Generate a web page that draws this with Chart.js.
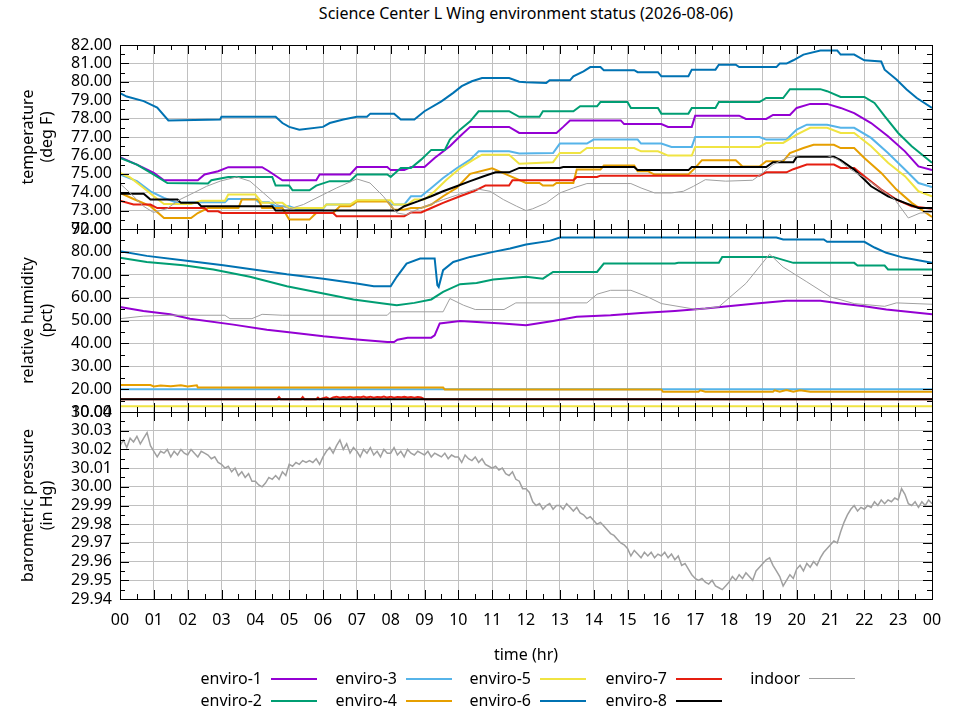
<!DOCTYPE html>
<html>
<head>
<meta charset="utf-8">
<script src="https://cdn.jsdelivr.net/npm/chart.js@4.4.1/dist/chart.umd.min.js"></script>
<style>
  body { margin: 0; background: #fff; font-family: "Noto Sans", sans-serif; }
  #page { position: relative; width: 960px; height: 720px; overflow: hidden; }
  .panel { position: absolute; left: 0; width: 960px; }
  #title { position: absolute; top: 2px; left: 0; width: 1052px; text-align: center; font-size: 16px; color: #000; }
  .lg { position: absolute; font-size: 16px; color: #000; text-align: right; width: 100px; line-height: 22px; }
  .ln { position: absolute; height: 2px; }
</style>
</head>
<body>
<div id="page">
  <div id="title">Science Center L Wing environment status (2026-08-06)</div>
  <div class="panel" style="top:25px;height:224px"><canvas id="tempChart"></canvas></div>
  <div class="panel" style="top:209px;height:223px"><canvas id="rhChart"></canvas></div>
  <div class="panel" style="top:392px;height:277px"><canvas id="presChart"></canvas></div>
  <div id="legend"></div>
</div>
<script>
let seriesNames = ['enviro-1', 'enviro-2', 'enviro-3', 'enviro-4', 'enviro-5', 'enviro-6', 'enviro-7', 'enviro-8', 'indoor']
let seriesColors = ['#9400d3', '#009e73', '#56b4e9', '#e69f00', '#f0e442', '#0072b2', '#e51e10', '#000000', '#a0a0a0']

let tempTicks = [72, 73, 74, 75, 76, 77, 78, 79, 80, 81, 82]
let rhTicks = [10, 20, 30, 40, 50, 60, 70, 80, 90]
let presTicks = [29.94, 29.95, 29.96, 29.97, 29.98, 29.99, 30.00, 30.01, 30.02, 30.03, 30.04]
let hourTicks = [0, 1, 2, 3, 4, 5, 6, 7, 8, 9, 10, 11, 12, 13, 14, 15, 16, 17, 18, 19, 20, 21, 22, 23, 24]

// temperature (deg F), [hour, value]
let tempE1 = [[0,75.9],[0.5,75.5],[1.0,75.05],[1.3,74.65],[2.3,74.65],[2.5,74.96],[2.9,75.14],[3.2,75.36],[4.2,75.36],[4.4,75.14],[4.8,74.65],[5.8,74.65],[5.9,74.96],[6.8,74.96],[7.0,75.37],[7.9,75.37],[8.0,75.2],[8.4,75.2],[8.6,75.37],[9.0,75.37],[9.3,75.86],[9.75,76.5],[10.05,77.04],[10.35,77.55],[11.5,77.55],[11.8,77.22],[12.9,77.22],[13.1,77.55],[13.3,77.9],[14.8,77.9],[14.9,77.7],[16.0,77.7],[16.2,77.55],[16.9,77.55],[17.0,78.16],[18.3,78.16],[18.5,77.98],[19.1,77.98],[19.3,78.2],[19.8,78.2],[20.0,78.58],[20.4,78.8],[20.9,78.8],[21.3,78.58],[21.7,78.3],[22.2,77.76],[22.7,77.04],[23.2,76.22],[23.6,75.4],[24,75.2]]
let tempE2 = [[0,75.86],[0.5,75.5],[1.0,74.96],[1.4,74.5],[2.6,74.47],[2.7,74.65],[3.2,74.83],[4.5,74.83],[4.6,74.36],[5.0,74.36],[5.1,74.1],[5.6,74.1],[5.8,74.36],[6.2,74.6],[6.8,74.6],[7.0,74.96],[7.9,74.96],[8.0,74.83],[8.3,75.32],[8.6,75.32],[8.9,75.77],[9.2,76.3],[9.6,76.3],[9.75,76.86],[10.05,77.4],[10.35,77.85],[10.6,78.4],[11.5,78.4],[11.8,78.1],[12.4,78.1],[12.5,78.4],[13.4,78.4],[13.6,78.67],[14.1,78.67],[14.2,78.9],[15.0,78.9],[15.1,78.58],[15.9,78.58],[16.0,78.27],[16.8,78.27],[16.9,78.58],[17.6,78.58],[17.7,78.9],[18.9,78.9],[19.1,79.12],[19.6,79.12],[19.8,79.6],[20.7,79.6],[20.9,79.49],[21.3,79.18],[22.0,79.18],[22.3,78.85],[22.6,78.13],[23.0,77.22],[23.4,76.5],[24,75.6]]
let tempE3 = [[0,74.96],[0.5,74.6],[0.9,74.05],[1.3,73.69],[1.7,73.42],[2.5,73.45],[3.1,73.45],[3.2,73.63],[4.0,73.63],[4.1,73.45],[4.4,73.45],[4.6,73.24],[5.0,73.24],[5.2,73.1],[6.0,73.1],[6.1,73.33],[6.9,73.33],[7.0,73.54],[7.9,73.54],[8.0,73.33],[8.4,73.33],[8.6,73.78],[8.9,73.78],[9.2,74.23],[9.55,74.77],[9.95,75.3],[10.35,75.77],[10.6,76.22],[11.5,76.22],[11.8,76.1],[12.8,76.13],[13.0,76.64],[13.8,76.64],[14.0,76.86],[15.3,76.86],[15.4,76.64],[16.0,76.64],[16.3,76.46],[16.9,76.46],[17.0,77.0],[18.9,77.0],[19.1,76.86],[19.7,76.86],[20.0,77.4],[20.3,77.67],[20.9,77.67],[21.3,77.5],[21.7,77.5],[22.2,76.95],[22.7,76.13],[23.2,75.23],[23.6,74.5],[24,74.28]]
let tempE4 = [[0,73.96],[0.4,73.63],[0.9,73.24],[1.3,72.6],[2.1,72.6],[2.3,72.87],[2.6,73.14],[3.5,73.14],[3.6,73.6],[4.1,73.6],[4.2,73.14],[4.8,73.14],[5.0,72.51],[5.6,72.51],[5.8,72.87],[6.3,72.87],[6.5,73.24],[6.8,73.24],[7.0,73.5],[7.9,73.5],[8.1,73.05],[8.4,73.05],[8.6,73.14],[8.9,73.14],[9.2,73.33],[9.55,73.78],[9.95,74.23],[10.35,75.0],[11.0,75.3],[11.5,74.9],[12.0,74.5],[12.4,74.5],[12.5,74.36],[12.8,74.36],[12.9,74.5],[13.4,74.5],[13.5,75.23],[14.2,75.23],[14.3,75.45],[15.2,75.45],[15.3,75.14],[15.6,75.14],[15.8,74.96],[16.8,74.96],[17.0,75.32],[17.2,75.74],[18.2,75.74],[18.4,75.4],[18.9,75.4],[19.1,75.68],[19.6,75.68],[19.8,76.13],[20.2,76.4],[20.5,76.58],[21.1,76.58],[21.3,76.4],[21.7,76.4],[22.0,75.86],[22.5,75.05],[22.95,74.14],[23.4,73.42],[24,72.65]]
let tempE5 = [[0,75.05],[0.3,74.8],[0.7,74.23],[1.0,73.78],[1.3,73.36],[2.1,73.36],[2.4,73.54],[3.1,73.54],[3.2,73.87],[4.0,73.87],[4.2,73.42],[4.8,73.42],[5.0,73.14],[6.0,73.14],[6.1,73.33],[6.8,73.33],[7.0,73.56],[8.0,73.56],[8.1,73.33],[8.5,73.33],[8.7,73.6],[9.0,73.6],[9.3,74.05],[9.65,74.68],[10.05,75.3],[10.45,75.77],[10.7,76.04],[11.5,76.04],[11.8,75.55],[12.8,75.63],[13.0,76.13],[13.6,76.13],[13.8,76.4],[15.2,76.4],[15.4,76.22],[15.9,76.22],[16.2,75.99],[16.9,75.99],[17.0,76.46],[18.9,76.46],[19.1,76.68],[19.6,76.68],[20.0,77.13],[20.4,77.5],[20.9,77.5],[21.3,77.22],[21.7,77.22],[22.2,76.5],[22.7,75.6],[23.2,74.87],[23.6,74.05],[24,73.78]]
let tempE6 = [[0,79.39],[0.2,79.2],[0.7,78.95],[1.1,78.6],[1.43,77.9],[2.96,77.95],[3.0,78.1],[4.6,78.1],[4.8,77.76],[5.0,77.55],[5.3,77.4],[6.0,77.55],[6.2,77.76],[6.6,77.95],[7.0,78.1],[7.3,78.1],[7.4,78.27],[8.1,78.27],[8.3,77.95],[8.7,77.95],[9.0,78.4],[9.5,78.94],[9.85,79.4],[10.1,79.76],[10.4,80.03],[10.7,80.2],[11.5,80.2],[11.8,80.0],[12.0,79.97],[12.6,79.94],[12.7,80.08],[13.3,80.08],[13.4,80.3],[13.7,80.57],[13.9,80.8],[14.2,80.8],[14.3,80.63],[15.2,80.63],[15.3,80.52],[15.9,80.52],[16.0,80.3],[16.8,80.3],[16.9,80.66],[17.6,80.66],[17.7,80.93],[18.2,80.93],[18.3,80.8],[19.4,80.8],[19.5,80.99],[19.7,80.99],[19.9,81.17],[20.2,81.48],[20.7,81.7],[21.2,81.7],[21.3,81.48],[21.7,81.48],[22.0,81.17],[22.5,81.1],[22.6,80.66],[22.95,80.12],[23.25,79.58],[23.55,79.12],[24,78.58]]
let tempE7 = [[0,73.54],[0.4,73.33],[0.9,73.33],[1.1,73.14],[2.5,73.14],[2.6,72.96],[2.9,72.96],[3.0,72.87],[6.3,72.87],[6.4,72.69],[8.4,72.69],[8.6,72.9],[8.9,72.9],[9.2,73.14],[9.55,73.42],[10.05,73.78],[10.45,74.05],[10.8,74.36],[11.5,74.36],[11.6,74.65],[13.4,74.65],[13.5,74.83],[14.1,74.83],[14.2,74.9],[18.9,74.9],[19.1,75.08],[19.7,75.08],[19.9,75.25],[20.3,75.5],[21.1,75.5],[21.3,75.32],[21.7,75.32],[22.0,74.87],[22.5,74.14],[22.95,73.6],[23.4,73.24],[24,73.1]]
let tempE8 = [[0,73.92],[0.7,73.92],[0.9,73.6],[1.7,73.6],[1.8,73.42],[2.3,73.42],[2.4,73.24],[4.5,73.24],[4.6,73.0],[8.2,73.0],[8.4,73.24],[8.8,73.5],[9.2,73.78],[9.55,74.05],[9.95,74.32],[10.35,74.6],[10.75,74.87],[11.1,75.08],[11.5,75.08],[11.8,75.32],[13.0,75.32],[13.1,75.37],[15.2,75.37],[15.3,75.2],[16.8,75.2],[16.9,75.37],[19.1,75.37],[19.3,75.63],[19.9,75.63],[20.0,75.92],[21.1,75.92],[21.3,75.75],[21.7,75.23],[22.2,74.32],[22.7,73.78],[23.2,73.42],[23.6,73.14],[24,73.14]]
let tempIndoor = [[0,74.47],[0.3,73.96],[0.69,73.24],[0.99,72.9],[1.38,73.1],[1.77,73.6],[2.17,73.96],[2.56,74.32],[2.96,74.6],[3.45,74.83],[3.84,74.6],[4.24,73.96],[4.63,73.33],[5.02,73.1],[5.42,73.33],[5.91,73.78],[6.4,74.23],[7.0,74.72],[7.39,74.5],[7.78,73.78],[8.18,72.87],[8.47,72.78],[8.77,73.05],[9.16,73.33],[9.56,73.6],[10.05,73.9],[10.54,74.18],[10.94,74.05],[11.33,73.6],[11.72,73.24],[12.0,73.0],[12.2,73.1],[12.6,73.42],[13.0,73.96],[13.4,74.23],[13.8,74.47],[15.1,74.47],[15.4,74.23],[15.8,73.96],[16.3,73.96],[16.65,74.05],[16.95,74.32],[17.3,74.68],[17.9,74.6],[18.7,74.65],[19.0,75.05],[19.3,75.5],[19.7,75.86],[20.1,75.99],[20.9,75.99],[21.2,75.8],[21.6,75.23],[22.1,74.68],[22.5,74.14],[22.9,73.6],[23.3,72.6],[23.65,72.87],[24,72.9]]

// relative humidity (pct), [hour, value]
let rhE1 = [[0,55.9],[0.69,54.2],[1.48,52.7],[2.07,50.8],[3.35,48.2],[4.34,46.0],[4.93,45.0],[6.01,43.1],[7.0,41.7],[7.9,40.6],[8.1,40.6],[8.2,41.6],[8.5,42.5],[9.2,42.5],[9.3,43.5],[9.45,48.7],[10.05,49.8],[11.3,48.7],[12.0,47.9],[12.8,49.8],[13.5,51.6],[14.5,52.3],[15.4,53.3],[16.4,54.2],[17.3,55.2],[18.8,57.4],[19.7,58.6],[20.7,58.6],[21.3,57.4],[22.0,56.2],[22.65,54.8],[24,52.7]]
let rhE2 = [[0,77.4],[0.79,75.6],[1.87,74.2],[2.76,72.3],[3.84,69.1],[4.93,65.0],[6.01,61.8],[6.9,59.2],[7.78,57.4],[8.18,56.7],[8.7,57.7],[9.2,59.2],[9.55,62.5],[10.05,65.9],[10.54,66.4],[11.03,67.9],[12.0,69.1],[12.5,68.3],[12.8,71.25],[14.1,71.25],[14.3,74.9],[16.4,74.9],[16.5,75.2],[17.7,75.2],[17.8,77.8],[19.3,77.8],[19.9,75.2],[21.7,75.2],[21.8,74.0],[22.6,74.0],[22.7,72.3],[24,72.3]]
let rhE3 = [[0,19.9],[24,19.9]]
let rhE4 = [[0,21.75],[0.9,21.75],[1.0,21.2],[1.2,21.6],[1.5,21.3],[1.8,21.7],[2.0,21.2],[2.27,21.7],[2.3,20.7],[9.55,20.7],[9.6,19.85],[16.0,19.85],[16.05,18.85],[17.1,18.85],[17.15,19.5],[17.3,18.85],[19.3,18.85],[19.35,19.5],[19.5,18.9],[19.7,19.6],[19.9,18.9],[20.1,19.5],[20.4,18.85],[24,18.85]]
let rhE5 = [[0,12.5],[24,12.5]]
let rhE6 = [[0,80.3],[0.79,78.25],[1.97,76.1],[3.05,74.2],[3.94,72.3],[4.93,70.2],[6.01,68.3],[7.0,66.2],[7.5,65.0],[8.0,65.0],[8.18,69.1],[8.47,74.9],[8.87,77.1],[9.3,77.1],[9.38,65.5],[9.42,64.7],[9.55,72.0],[9.85,75.6],[10.35,77.8],[11.03,80.0],[11.53,81.5],[12.0,83.2],[12.7,84.8],[13.0,86.3],[19.4,86.3],[19.6,85.4],[20.8,85.4],[20.9,84.4],[22.0,84.4],[22.3,81.9],[22.65,79.6],[23.15,77.5],[24,75.2]]
let rhE7 = [[0,15.6],[4.65,15.6],[4.7,16.5],[4.75,15.6],[5.35,15.6],[5.4,16.5],[5.45,15.6],[5.8,15.6],[5.85,16.3],[5.9,15.6],[6.1,16.4],[6.2,15.6],[6.3,16.4],[6.4,16.7],[6.5,16.2],[6.6,16.6],[6.7,16.3],[6.8,16.7],[6.9,16.2],[7.0,16.6],[7.1,16.4],[7.2,16.8],[7.3,16.3],[7.4,16.7],[7.5,16.2],[7.6,16.6],[7.7,16.4],[7.8,16.8],[7.9,16.3],[8.0,16.7],[8.1,16.2],[8.2,16.6],[8.3,16.4],[8.4,16.7],[8.5,16.3],[8.6,16.6],[8.7,16.2],[8.8,16.5],[8.9,16.3],[9.0,15.6],[24,15.6]]
let rhE8 = [[0,15.6],[24,15.6]]
let rhIndoor = [[0,50.8],[0.69,51.9],[1.48,52.3],[3.1,52.3],[3.25,50.8],[3.9,50.8],[4.2,52.7],[4.8,52.3],[7.9,52.3],[8.0,53.8],[9.55,53.8],[9.75,59.6],[10.15,56.7],[10.5,54.8],[11.35,54.8],[11.7,57.7],[13.8,57.7],[14.1,61.5],[14.5,63.2],[15.1,63.2],[15.6,60.3],[16.0,57.4],[17.05,54.8],[17.7,56.0],[18.5,66.2],[19.2,79.0],[19.6,73.4],[20.3,66.9],[21.0,60.3],[21.7,57.4],[22.6,56.2],[22.95,57.7],[24,57.1]]

// barometric pressure (in Hg), indoor only, one reading every 0.1 hr
let presIndoor = [
  30.022, 30.025, 30.021, 30.026, 30.024, 30.027, 30.023, 30.026, 30.029, 30.022,
  30.019, 30.016, 30.019, 30.018, 30.020, 30.016, 30.019, 30.017, 30.020, 30.018,
  30.017, 30.020, 30.018, 30.016, 30.019, 30.018, 30.017, 30.015, 30.016, 30.013,
  30.012, 30.010, 30.011, 30.008, 30.010, 30.006, 30.008, 30.005, 30.007, 30.003,
  30.003, 30.001, 30.000, 30.002, 30.005, 30.004, 30.006, 30.004, 30.008, 30.006,
  30.012, 30.011, 30.013, 30.012, 30.014, 30.013, 30.014, 30.013, 30.015, 30.012,
  30.016, 30.019, 30.021, 30.018, 30.022, 30.025, 30.020, 30.023, 30.018, 30.021,
  30.019, 30.016, 30.020, 30.018, 30.021, 30.017, 30.019, 30.016, 30.020, 30.018,
  30.018, 30.021, 30.017, 30.019, 30.016, 30.020, 30.018, 30.017, 30.019, 30.018,
  30.017, 30.019, 30.016, 30.018, 30.017, 30.016, 30.018, 30.015, 30.017, 30.016,
  30.016, 30.013, 30.017, 30.015, 30.014, 30.016, 30.013, 30.015, 30.012, 30.011,
  30.010, 30.011, 30.009, 30.010, 30.007, 30.006, 30.008, 30.004, 30.003, 29.999,
  29.999, 29.997, 29.992, 29.990, 29.991, 29.988, 29.990, 29.991, 29.988, 29.990,
  29.990, 29.988, 29.991, 29.989, 29.987, 29.989, 29.986, 29.985, 29.983, 29.984,
  29.982, 29.980, 29.981, 29.979, 29.977, 29.975, 29.974, 29.972, 29.970, 29.969,
  29.967, 29.963, 29.966, 29.964, 29.962, 29.965, 29.963, 29.965, 29.962, 29.964,
  29.963, 29.965, 29.962, 29.964, 29.961, 29.963, 29.958, 29.959, 29.956, 29.953,
  29.951, 29.950, 29.951, 29.949, 29.948, 29.950, 29.947, 29.946, 29.945, 29.947,
  29.949, 29.952, 29.950, 29.953, 29.951, 29.954, 29.952, 29.950, 29.955, 29.957,
  29.959, 29.961, 29.962, 29.958, 29.955, 29.952, 29.947, 29.950, 29.953, 29.951,
  29.956, 29.958, 29.955, 29.959, 29.957, 29.960, 29.958, 29.962, 29.965, 29.967,
  29.969, 29.971, 29.970, 29.976, 29.981, 29.985, 29.988, 29.990, 29.987, 29.989,
  29.988, 29.990, 29.989, 29.992, 29.990, 29.993, 29.991, 29.993, 29.992, 29.994,
  29.993, 29.999, 29.996, 29.991, 29.990, 29.992, 29.989, 29.992, 29.990, 29.993,
  29.991
]

let tempSeries = [tempE1, tempE2, tempE3, tempE4, tempE5, tempE6, tempE7, tempE8, tempIndoor]
let rhSeries = [rhE1, rhE2, rhE3, rhE4, rhE5, rhE6, rhE7, rhE8, rhIndoor]

let font16 = { family: 'Noto Sans', size: 16 }
let gridColor = '#c0c0c0'

// gnuplot style border with inward ticks on all four sides
let frame = {
  id: 'frame',
  afterDatasetsDraw(chart, args, opts) {
    const { ctx, chartArea: a, scales: { x, y } } = chart
    const yt = opts.ticks
    ctx.save()
    ctx.strokeStyle = '#000'
    ctx.lineWidth = 1
    ctx.beginPath()
    for (let h = 0; h <= 24; h += 0.5) {
      const px = Math.round(x.getPixelForValue(h)) + 0.5
      const len = h % 1 === 0 ? 9 : 5
      ctx.moveTo(px, a.top); ctx.lineTo(px, a.top + len)
      ctx.moveTo(px, a.bottom); ctx.lineTo(px, a.bottom - len)
    }
    for (let i = 0; i < yt.length; i++) {
      let py = Math.round(y.getPixelForValue(yt[i])) + 0.5
      ctx.moveTo(a.left, py); ctx.lineTo(a.left + 9, py)
      ctx.moveTo(a.right, py); ctx.lineTo(a.right - 9, py)
      if (i < yt.length - 1) {
        py = Math.round(y.getPixelForValue((yt[i] + yt[i + 1]) / 2)) + 0.5
        ctx.moveTo(a.left, py); ctx.lineTo(a.left + 5, py)
        ctx.moveTo(a.right, py); ctx.lineTo(a.right - 5, py)
      }
    }
    ctx.stroke()
    ctx.strokeRect(Math.round(a.left) + 0.5, Math.round(a.top) + 0.5, Math.round(a.width), Math.round(a.height))
    ctx.restore()
  }
}

function makeDatasets(list) {
  return list.map((pts, i) => ({
    label: seriesNames[i],
    data: pts.map(p => ({ x: p[0], y: p[1] })),
    borderColor: seriesColors[i],
    borderWidth: i === 8 ? 1 : 2,
    pointRadius: 0,
    order: 9 - i
  }))
}

function makeChart(id, datasets, ticks, title, pad, showX) {
  return new Chart(document.getElementById(id), {
    type: 'line',
    data: { datasets: datasets },
    plugins: [frame],
    options: {
      animation: false,
      responsive: true,
      maintainAspectRatio: false,
      layout: { padding: { top: pad.top, bottom: pad.bottom, left: 0, right: 28 } },
      scales: {
        x: {
          type: 'linear',
          min: 0,
          max: 24,
          border: { display: false },
          grid: { color: gridColor, drawTicks: false },
          afterBuildTicks: s => { s.ticks = hourTicks.map(v => ({ value: v })) },
          afterFit: s => { s.height = showX ? 70 : 0 },
          ticks: {
            display: showX,
            autoSkip: false,
            maxRotation: 0,
            padding: 12,
            color: '#000',
            font: font16,
            callback: v => String(v % 24).padStart(2, '0')
          },
          title: {
            display: showX,
            text: 'time (hr)',
            color: '#000',
            font: font16,
            padding: { top: 0, bottom: 4 }
          }
        },
        y: {
          min: ticks[0],
          max: ticks[ticks.length - 1],
          border: { display: false },
          grid: { color: gridColor, drawTicks: false },
          afterBuildTicks: s => { s.ticks = ticks.map(v => ({ value: v })) },
          afterFit: s => { s.width = 120 },
          ticks: {
            autoSkip: false,
            padding: 8,
            color: '#000',
            font: font16,
            callback: v => v.toFixed(2)
          },
          title: {
            display: true,
            text: title,
            color: '#000',
            font: font16,
            padding: { top: 19, bottom: 0 }
          }
        }
      },
      plugins: {
        legend: { display: false },
        tooltip: { enabled: false },
        frame: { ticks: ticks }
      }
    }
  })
}

makeChart('tempChart', makeDatasets(tempSeries), tempTicks, ['temperature', '(deg F)'], { top: 20, bottom: 20 }, false)
makeChart('rhChart', makeDatasets(rhSeries), rhTicks, ['relative humidity', '(pct)'], { top: 20, bottom: 20 }, false)
makeChart('presChart', [{
  label: 'indoor',
  data: presIndoor.map((v, i) => ({ x: i / 10, y: v })),
  borderColor: seriesColors[8],
  borderWidth: 1.5,
  pointRadius: 0
}], presTicks, ['barometric pressure', '(in Hg)'], { top: 20, bottom: 0 }, true)

// legend, gnuplot style: text then line sample, two rows
let legend = document.getElementById('legend')
let colRight = [262, 397, 531, 667, 800]
seriesNames.forEach((name, i) => {
  const col = Math.floor(i / 2)
  const row = i % 2
  const top = row === 0 ? 667 : 689
  const t = document.createElement('div')
  t.className = 'lg'
  t.textContent = name
  t.style.left = (colRight[col] - 100) + 'px'
  t.style.top = top + 'px'
  legend.appendChild(t)
  const l = document.createElement('div')
  l.className = 'ln'
  l.style.left = (colRight[col] + 9) + 'px'
  l.style.width = '46px'
  l.style.top = (top + 11) + 'px'
  l.style.background = seriesColors[i]
  if (i === 8) l.style.height = '1px'
  legend.appendChild(l)
})
</script>
</body>
</html>
